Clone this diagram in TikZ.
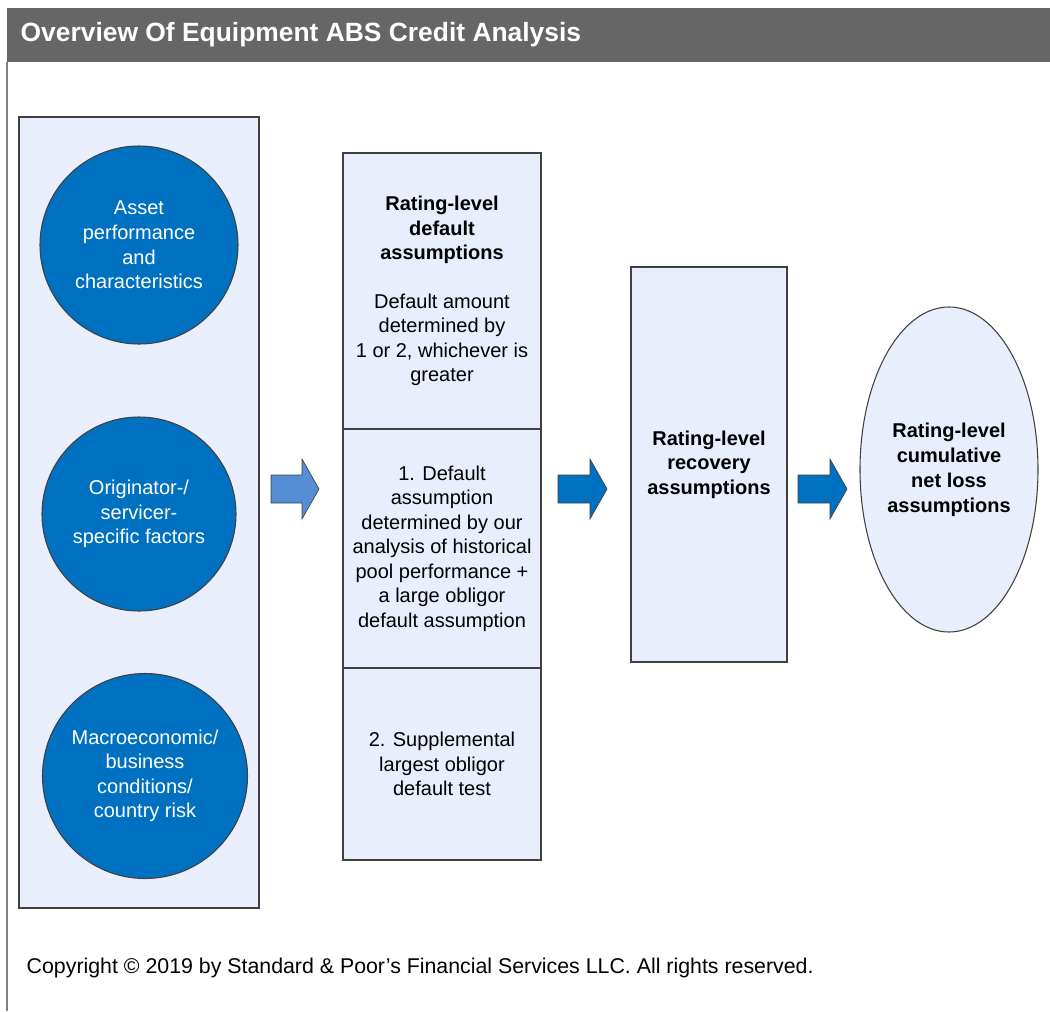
\documentclass[tikz,border=0pt]{standalone}
\usepackage{fontspec}
\setmainfont{Liberation Sans}
\usepackage{tikz}
\usetikzlibrary{shapes.geometric}

\definecolor{headgray}{HTML}{666666}
\definecolor{panelblue}{HTML}{E8EEFC}
\definecolor{circblue}{HTML}{0070C0}
\definecolor{arrowlight}{HTML}{558ED5}
\definecolor{edgegray}{HTML}{404040}

\tikzset{
  panel/.style={draw=edgegray, fill=panelblue, line width=0.8pt},
  factor/.style={circle, draw=edgegray, fill=circblue, text=white, line width=0.8pt,
    align=center, font=\fontsize{15}{18.4}\selectfont, inner sep=0pt},
  stepbox/.style={draw=edgegray, fill=panelblue, line width=0.8pt, align=center,
    font=\fontsize{15}{18.4}\selectfont, inner sep=0pt},
  blockarrow/.style={draw=edgegray, line width=0.5pt},
}

\begin{document}
\begin{tikzpicture}[x=0.75pt, y=-0.75pt]
    \useasboundingbox (0,0) rectangle (1050,1011);
    % barra do titulo
    \fill[headgray] (7,8) rectangle (1050,62);
    \node[anchor=west, text=white, font=\fontsize{19.8}{23}\selectfont\bfseries] (title) at (16,35)
      {Overview Of Equipment ABS Credit Analysis};
    \draw[gray, line width=1pt] (7,62) -- (7,1011);
    % painel da esquerda com os fatores
    \node[panel, minimum width=240*0.75pt, minimum height=791*0.75pt, inner sep=0pt] (left) at (139,512.5) {};
    \node[factor, minimum size=198*0.75pt] (asset) at (139,245)
      {Asset\\performance\\and\\characteristics};
    \node[factor, minimum size=194*0.75pt] (orig) at (139,514)
      {Originator-/\\servicer-\\specific factors};
    \node[factor, minimum size=205*0.75pt] (macro) at (145,776)
      {Macroeconomic/\\business\\conditions/\\country risk};
    % coluna do meio
    \node[stepbox, minimum width=198*0.75pt, minimum height=276*0.75pt] (default) at (442,291)
      {\textbf{Rating-level}\\\textbf{default}\\\textbf{assumptions}\\[18pt]
       Default amount\\determined by\\1 or 2, whichever is\\greater};
    \node[stepbox, minimum width=198*0.75pt, minimum height=239*0.75pt] (hist) at (442,548.5)
      {1. Default\\assumption\\determined by our\\analysis of historical\\pool performance +\\a large obligor\\default assumption};
    \node[stepbox, minimum width=198*0.75pt, minimum height=192*0.75pt] (supp) at (442,764)
      {2. Supplemental\\largest obligor\\default test};
    % recuperacao e perda
    \node[stepbox, minimum width=156*0.75pt, minimum height=395*0.75pt, font=\fontsize{15}{18.4}\selectfont\bfseries] (recov) at (709,464.5)
      {Rating-level\\recovery\\assumptions};
    \node[stepbox, ellipse, minimum width=178*0.75pt, minimum height=325*0.75pt, font=\fontsize{15}{18.8}\selectfont\bfseries] (loss) at (949,469.5)
      {Rating-level\\cumulative\\net loss\\assumptions};
    % setas grossas
    \filldraw[blockarrow, fill=arrowlight] (271,475) -- (302,475) -- (302,459) -- (319,489) -- (302,519) -- (302,503) -- (271,503) -- cycle;
    \filldraw[blockarrow, fill=circblue] (558,475) -- (590,475) -- (590,459) -- (607,489) -- (590,519) -- (590,503) -- (558,503) -- cycle;
    \filldraw[blockarrow, fill=circblue] (798,475) -- (830,475) -- (830,459) -- (847,489) -- (830,519) -- (830,503) -- (798,503) -- cycle;
    % rodape
    \node[anchor=west, font=\fontsize{16}{19}\selectfont] (copy) at (22,968)
      {Copyright © 2019 by Standard \& Poor’s Financial Services LLC. All rights reserved.};
\end{tikzpicture}
\end{document}
